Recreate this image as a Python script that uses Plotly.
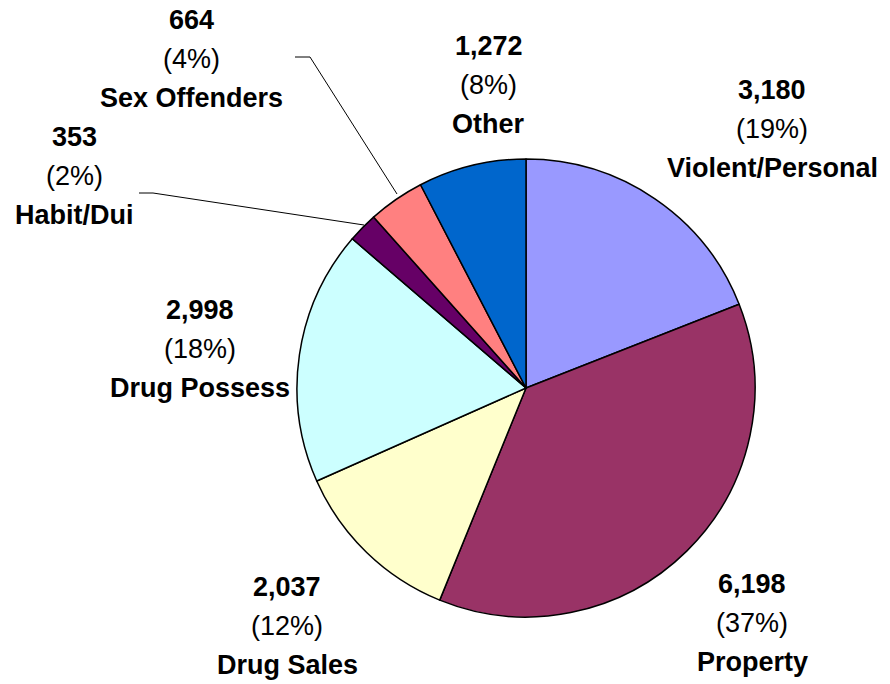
import plotly.graph_objects as go

# offense categories, clockwise from 12 o'clock
categories = ["Violent/Personal", "Property", "Drug Sales", "Drug Possess",
              "Habit/Dui", "Sex Offenders", "Other"]
counts = [3180, 6198, 2037, 2998, 353, 664, 1272]
colors = ["#9999FF", "#993366", "#FFFFCC", "#CCFFFF", "#660066", "#FF8080", "#0066CC"]

# label block centres in pixels (x, y from top)
label_pos = [(772, 129), (752, 623), (287, 626), (200, 349),
             (74, 176), (191, 59), (489, 85)]

W, H = 890, 684
total = sum(counts)

fig = go.Figure()
fig.add_trace(go.Pie(
    labels=categories, values=counts,
    sort=False, direction="clockwise", rotation=0,
    marker=dict(colors=colors, line=dict(color="black", width=1.5)),
    textinfo="none", hoverinfo="label+value+percent",
    showlegend=False,
    domain=dict(x=[297 / W, 755 / W], y=[(H - 619) / H, (H - 157) / H]),
))

font = dict(family="Liberation Sans, Arial, sans-serif", size=27, color="black")
step = 39
for name, v, (px_, py_) in zip(categories, counts, label_pos):
    lines = [f"<b>{v:,}</b>", f"({round(100 * v / total)}%)", f"<b>{name}</b>"]
    for i, t in enumerate(lines):
        fig.add_annotation(x=px_ / W, y=1 - (py_ + (i - 1) * step) / H,
                           xref="paper", yref="paper", text=t, showarrow=False,
                           font=font, xanchor="center", yanchor="middle")

# leader lines for the two small slices
leaders = [[(295, 57), (310, 57), (397, 194)],
           [(139, 193), (153, 193), (364, 225)]]
for pts in leaders:
    path = "M " + " L ".join(f"{x / W},{1 - y / H}" for x, y in pts)
    fig.add_shape(type="path", path=path, xref="paper", yref="paper",
                  line=dict(color="black", width=1))

fig.update_layout(width=W, height=H, margin=dict(l=0, r=0, t=0, b=0),
                  paper_bgcolor="white", plot_bgcolor="white")

# drop the default page margin so the figure sits at the window corner
fig.write_html("out.html", config={"displayModeBar": False},
               post_script="document.body.style.margin='0';")
